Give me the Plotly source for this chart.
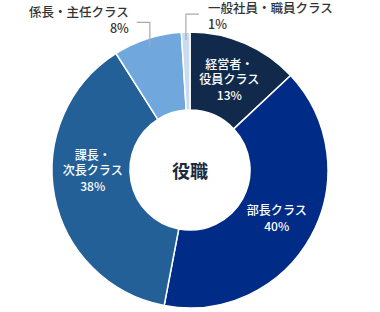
import math
import plotly.graph_objects as go

categories = ["経営者・<br>役員クラス", "部長クラス", "課長・<br>次長クラス", "係長・主任クラス", "一般社員・職員クラス"]
values = [13, 40, 38, 8, 1]
colors = ["#112a4b", "#002b87", "#236097", "#70a7dc", "#c8dbef"]
center_label = "役職"

W, H = 380, 312
FONT = "Noto Sans CJK JP"
CX, CY, R = 190, 170, 138
dom_x = [(CX - R) / W, (CX + R) / W]
dom_y = [1 - (CY + R) / H, 1 - (CY - R) / H]

inside = [i for i, v in enumerate(values) if v >= 10]
# a leading empty line nudges the 38% label slightly lower, as in the reference
lead = {2: "<br>"}
texts = [f"{lead.get(i, '')}{categories[i]}<br>{values[i]}%" if i in inside else "" for i in range(len(values))]

fig = go.Figure(go.Pie(
    values=values,
    labels=[c.replace("<br>", "") for c in categories],
    text=texts,
    textinfo="text",
    textposition="inside",
    insidetextorientation="horizontal",
    sort=False,
    direction="clockwise",
    rotation=0,
    hole=0.435,
    marker=dict(colors=colors, line=dict(color="white", width=1.5)),
    textfont=dict(family=FONT, size=12.5, color="white", weight=500),
    domain=dict(x=dom_x, y=dom_y),
    showlegend=False,
    hoverinfo="label+percent",
))

total = sum(values)
cum = 0
shapes = []
annotations = [dict(text=center_label, x=CX / W, y=1 - CY / H, xref="paper", yref="paper",
                    showarrow=False, font=dict(family=FONT, size=18, color="#1b2a40", weight=700),
                    xanchor="center", yanchor="middle")]

def px(x, y):
    return x / W, 1 - y / H

for i, v in enumerate(values):
    start = cum
    cum += v
    if i in inside:
        continue
    mid = (start + v / 2) / total * 2 * math.pi
    sx = CX + 130 * math.sin(mid)
    sy = CY - 130 * math.cos(mid)
    left = sx < CX - 10
    ty = sy - (24 if left else 26)
    side = -1 if left else 1
    ex = sx + side * 13
    x0, y0 = px(sx, sy)
    x1, y1 = px(sx, ty)
    x2, y2 = px(ex, ty)
    shapes.append(dict(type="path", xref="paper", yref="paper",
                       path=f"M{x0},{y0} L{x1},{y1} L{x2},{y2}",
                       line=dict(color="#a9a9a9", width=1.2)))
    if left:
        lx, xa, al, cy = ex - 7, "right", "right", ty - 3
    else:
        lx, xa, al, cy = ex + 8, "left", "left", ty + 1
    name = categories[i].replace("<br>", "")
    annotations.append(dict(text=f"{name}<br>{v}%", x=lx / W, y=1 - cy / H, xref="paper", yref="paper",
                            showarrow=False, xanchor=xa, yanchor="middle", align=al, borderpad=0,
                            font=dict(family=FONT, size=12.5, color="#333333", weight=500)))

fig.update_layout(width=W, height=H, margin=dict(l=0, r=0, t=0, b=0),
                  paper_bgcolor="white", plot_bgcolor="white",
                  shapes=shapes, annotations=annotations,
                  uniformtext=dict(minsize=12, mode="show"))
fig.write_html("out.html")
